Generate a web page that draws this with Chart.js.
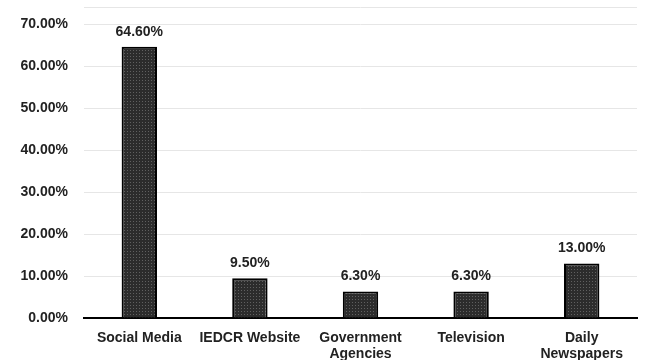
<!DOCTYPE html>
<html>
<head>
<meta charset="utf-8">
<script src="https://cdn.jsdelivr.net/npm/chart.js@4.4.1/dist/chart.umd.min.js"></script>
<style>
  html, body { margin: 0; padding: 0; background: #fff; overflow: hidden; }
  #wrap { width: 652px; height: 360px; overflow: hidden; }
  #sourcesChart { display: block; margin-top: -17px; }
</style>
</head>
<body>
<div id="wrap"><canvas id="sourcesChart" width="652" height="377"></canvas></div>
<script>
// Sources of information - share of respondents
const categories = ['Social Media', 'IEDCR Website', ['Government', 'Agencies'], 'Television', ['Daily', 'Newspapers']];
const shares = [64.6, 9.5, 6.3, 6.3, 13.0];
const yTicks = [0, 10, 20, 30, 40, 50, 60, 70];

const FONT = '"Liberation Sans", Arial, sans-serif';

// stippled dark fill for the bars
function makeDotPattern() {
    const c = document.createElement('canvas');
    c.width = 3;
    c.height = 3;
    const g = c.getContext('2d');
    g.fillStyle = '#2c2c2c';
    g.fillRect(0, 0, 3, 3);
    g.fillStyle = '#606060';
    g.fillRect(1, 1, 1, 1);
    return g.createPattern(c, 'repeat');
}

// value labels above each bar
const valueLabels = {
    id: 'valueLabels',
    afterDatasetsDraw(chart) {
        const ctx = chart.ctx;
        const meta = chart.getDatasetMeta(0);
        ctx.save();
        ctx.font = 'bold 14px ' + FONT;
        ctx.fillStyle = '#222';
        ctx.textAlign = 'center';
        ctx.textBaseline = 'middle';
        meta.data.forEach((bar, i) => {
            ctx.fillText(shares[i].toFixed(2) + '%', bar.x, bar.y - 15);
        });
        ctx.restore();
    }
};

const ctx = document.getElementById('sourcesChart').getContext('2d');
new Chart(ctx, {
    type: 'bar',
    data: {
        labels: categories,
        datasets: [{
            data: shares,
            backgroundColor: makeDotPattern(),
            borderColor: '#000',
            borderWidth: 2,
            barPercentage: 0.32,
            categoryPercentage: 1.0
        }]
    },
    options: {
        responsive: false,
        animation: false,
        layout: { padding: { top: 0, right: 15, left: 0, bottom: 0 } },
        plugins: {
            legend: { display: false },
            tooltip: { enabled: false }
        },
        scales: {
            x: {
                grid: { display: false },
                border: { color: '#000', width: 2 },
                ticks: {
                    color: '#222',
                    font: { family: FONT, size: 14, weight: 'bold', lineHeight: '16px' },
                    padding: 4,
                    maxRotation: 0,
                    autoSkip: false
                },
                afterFit(scale) { scale.height = 42; }
            },
            y: {
                min: 0,
                max: 74,
                afterBuildTicks(scale) {
                    scale.ticks = yTicks.map(v => ({ value: v })).concat([{ value: 74 }]);
                },
                grid: { color: '#e6e6e6', lineWidth: 1, drawTicks: false },
                border: { display: false },
                ticks: {
                    color: '#222',
                    font: { family: FONT, size: 14, weight: 'bold' },
                    padding: 16,
                    callback: v => (v === 74 ? '' : v.toFixed(2) + '%')
                },
                afterFit(scale) { scale.width = 84; }
            }
        }
    },
    plugins: [valueLabels]
});
</script>
</body>
</html>
